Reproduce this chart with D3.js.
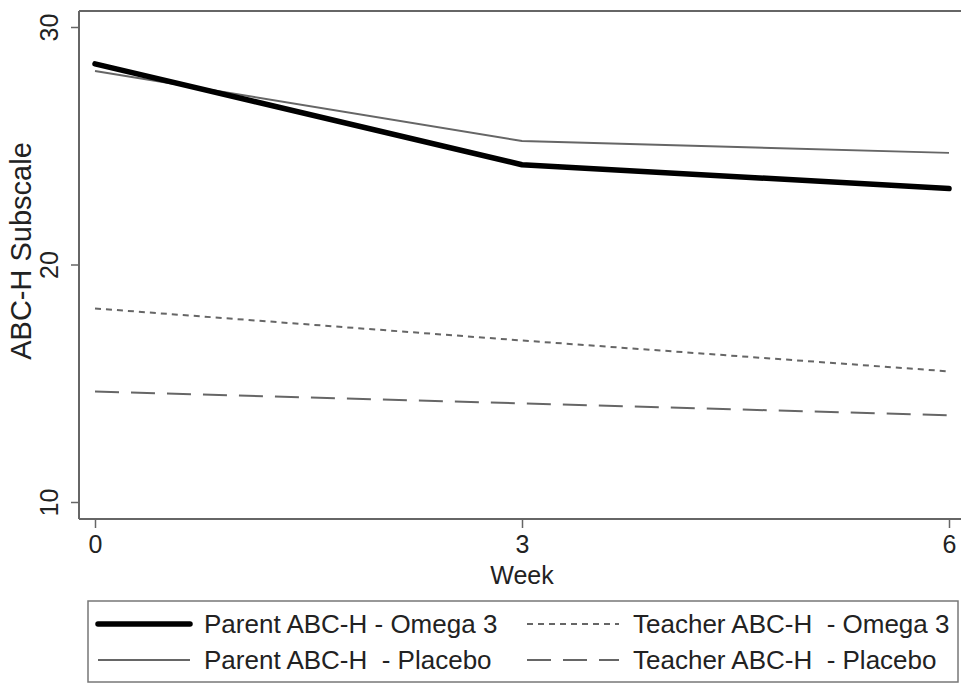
<!DOCTYPE html>
<html><head><meta charset="utf-8">
<script src="https://cdn.jsdelivr.net/npm/d3@7/dist/d3.min.js"></script>
<style>body{margin:0;background:#fff;} svg{display:block;font-family:"Liberation Sans",Arial,sans-serif;}</style>
</head><body>
<svg id="chart" width="961" height="684"></svg>
<script>
const weeks = [0, 3, 6];
const parentOmega = [28.45, 24.2, 23.2];
const parentPlacebo = [28.15, 25.2, 24.7];
const teacherOmega = [18.15, 16.8, 15.5];
const teacherPlacebo = [14.65, 14.15, 13.65];
const yTicks = [10, 20, 30];
const xTicks = [0, 3, 6];
const seriesNames = ["Parent ABC-H - Omega 3", "Parent ABC-H  - Placebo", "Teacher ABC-H  - Omega 3", "Teacher ABC-H  - Placebo"];

const styles = [
  {color:"#000", width:5.5, dash:null},
  {color:"#666", width:2, dash:null},
  {color:"#666", width:2, dash:"6,5"},
  {color:"#666", width:2, dash:"24,12"}
];
const seriesData = [parentOmega, parentPlacebo, teacherOmega, teacherPlacebo];

const svg = d3.select("#chart");
const pLeft = 79, pRight = 961, pTop = 11, pBottom = 519;
const x = d3.scaleLinear().domain([0, 6]).range([95, 949]);
const y = d3.scaleLinear().domain([10, 30]).range([502, 27]);
const axisColor = "#666";
const fs = 25;

// frame
svg.append("line").attr("x1", pLeft).attr("x2", pRight).attr("y1", pTop).attr("y2", pTop)
  .attr("stroke", axisColor).attr("stroke-width", 2);

// y axis
const gy = svg.append("g").attr("transform", `translate(${pLeft},0)`)
  .call(d3.axisLeft(y).tickValues(yTicks).tickSize(8).tickPadding(0).tickFormat(d3.format("d")));
gy.select(".domain").attr("d", `M0,${pTop}V${pBottom}`).attr("stroke", axisColor).attr("stroke-width", 2);
gy.selectAll(".tick line").attr("stroke", axisColor).attr("stroke-width", 1.5);
gy.selectAll(".tick text").attr("transform", "translate(-30,0) rotate(-90)").attr("x", 0).attr("dy", "0.35em")
  .attr("text-anchor", "middle").attr("font-size", fs).attr("fill", "#222").attr("font-family", "Liberation Sans, Arial, sans-serif");

// x axis
const gx = svg.append("g").attr("transform", `translate(0,${pBottom})`)
  .call(d3.axisBottom(x).tickValues(xTicks).tickSize(9).tickPadding(7).tickFormat(d3.format("d")));
gx.select(".domain").attr("d", `M${pLeft},0H${pRight}`).attr("stroke", axisColor).attr("stroke-width", 2);
gx.selectAll(".tick line").attr("stroke", axisColor).attr("stroke-width", 1.5);
gx.selectAll(".tick text").attr("font-size", fs).attr("fill", "#222").attr("font-family", "Liberation Sans, Arial, sans-serif");

// axis titles
svg.append("text").attr("x", 522).attr("y", 584).attr("text-anchor", "middle")
  .attr("font-size", fs).attr("fill", "#222").text("Week");
svg.append("text").attr("transform", "translate(31,251) rotate(-90)").attr("text-anchor", "middle")
  .attr("font-size", 29).attr("fill", "#222").text("ABC-H Subscale");

// lines
const line = d3.line().x((d, i) => x(weeks[i])).y(d => y(d));
[3, 2, 1, 0].forEach(i => {
  svg.append("path").datum(seriesData[i]).attr("d", line)
    .attr("fill", "none").attr("stroke", styles[i].color).attr("stroke-width", styles[i].width)
    .attr("stroke-dasharray", styles[i].dash).attr("stroke-linecap", i === 0 ? "round" : "butt")
    .attr("stroke-linejoin", "round");
});

// legend
svg.append("rect").attr("x", 88).attr("y", 601).attr("width", 870).attr("height", 81)
  .attr("fill", "none").attr("stroke", "#777").attr("stroke-width", 1.5);
const legPos = [
  {lx:98, tx:204, y:624},
  {lx:98, tx:204, y:660},
  {lx:527, tx:633, y:624},
  {lx:527, tx:633, y:660}
];
seriesNames.forEach((name, i) => {
  const p = legPos[i];
  svg.append("line").attr("x1", p.lx).attr("x2", p.lx + 92).attr("y1", p.y).attr("y2", p.y)
    .attr("stroke", styles[i].color).attr("stroke-width", styles[i].width)
    .attr("stroke-dasharray", styles[i].dash).attr("stroke-linecap", i === 0 ? "round" : "butt");
  svg.append("text").attr("x", p.tx).attr("y", p.y).attr("dy", "0.35em")
    .attr("font-size", 26).attr("fill", "#222").style("white-space", "pre").text(name);
});
</script>
</body></html>
